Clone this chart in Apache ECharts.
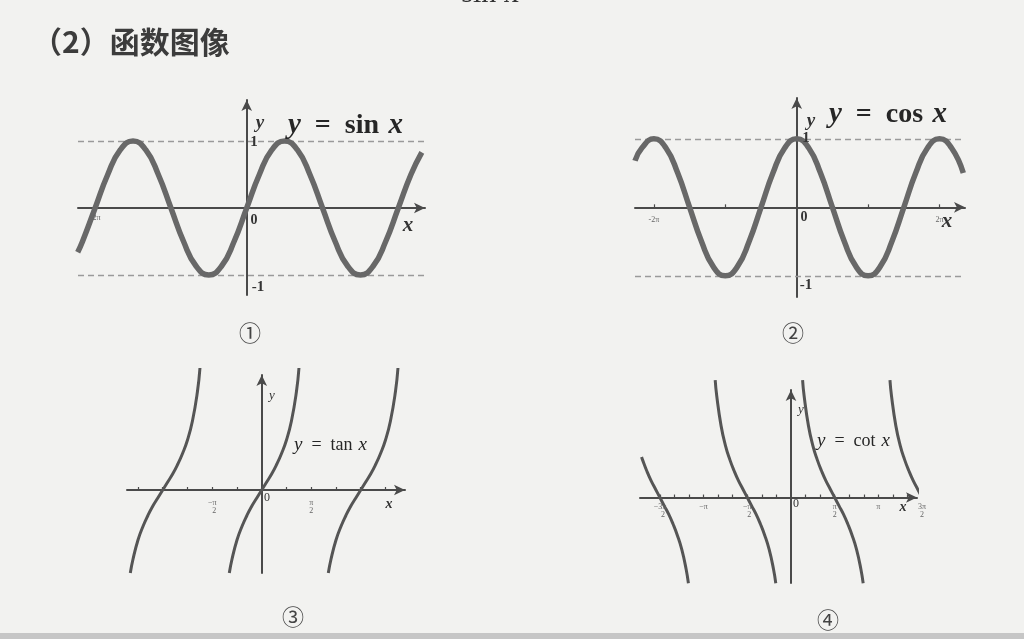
<!DOCTYPE html>
<html>
<head>
<meta charset="utf-8">
<script src="https://cdn.jsdelivr.net/npm/echarts@6/dist/echarts.min.js"></script>
<style>
html,body{margin:0;padding:0;background:#f2f2f0;}
#chart{width:1024px;height:639px;}
</style>
</head>
<body>
<div id="chart"></div>
<script>
// ---- data (x in units of π) ----
const sinX = [-2.23, -2.1667, -2, -1.8333, -1.6667, -1.5, -1.3333, -1.1667, -1, -0.8333, -0.6667, -0.5, -0.3333, -0.1667, 0, 0.1667, 0.3333, 0.5, 0.6667, 0.8333, 1, 1.1667, 1.3333, 1.5, 1.6667, 1.8333, 2, 2.1667, 2.31];
const sinY = [-0.66, -0.5, 0, 0.5, 0.87, 1, 0.87, 0.5, 0, -0.5, -0.87, -1, -0.87, -0.5, 0, 0.5, 0.87, 1, 0.87, 0.5, 0, -0.5, -0.87, -1, -0.87, -0.5, 0, 0.5, 0.83];

const cosX = [-2.265, -2.1667, -2, -1.8333, -1.6667, -1.5, -1.3333, -1.1667, -1, -0.8333, -0.6667, -0.5, -0.3333, -0.1667, 0, 0.1667, 0.3333, 0.5, 0.6667, 0.8333, 1, 1.1667, 1.3333, 1.5, 1.6667, 1.8333, 2, 2.1667, 2.3333];
const cosY = [0.68, 0.87, 1, 0.87, 0.5, 0, -0.5, -0.87, -1, -0.87, -0.5, 0, 0.5, 0.87, 1, 0.87, 0.5, 0, -0.5, -0.87, -1, -0.87, -0.5, 0, 0.5, 0.87, 1, 0.87, 0.5];

const tanLeftX  = [-1.3275, -1.3, -1.25, -1.2, -1.15, -1.1, -1.05, -1, -0.95, -0.9, -0.85, -0.8, -0.75, -0.7, -0.65, -0.624];
const tanMidX   = [-0.3275, -0.3, -0.25, -0.2, -0.15, -0.1, -0.05, 0, 0.05, 0.1, 0.15, 0.2, 0.25, 0.3, 0.35, 0.376];
const tanRightX = [0.6725, 0.7, 0.75, 0.8, 0.85, 0.9, 0.95, 1, 1.05, 1.1, 1.15, 1.2, 1.25, 1.3, 1.35, 1.376];
const tanBranchY = [-1.66, -1.38, -1, -0.73, -0.51, -0.32, -0.16, 0, 0.16, 0.32, 0.51, 0.73, 1, 1.38, 1.96, 2.44];
const tanGuideX = [-0.5, 0.5];

const cotFarLeftX = [-1.71, -1.7, -1.65, -1.6, -1.55, -1.5, -1.45, -1.4, -1.35, -1.3, -1.25, -1.2, -1.174];
const cotFarLeftY = [0.78, 0.73, 0.51, 0.32, 0.16, 0, -0.16, -0.32, -0.51, -0.73, -1, -1.38, -1.65];
const cotLeftX = [-0.8674, -0.85, -0.8, -0.75, -0.7, -0.65, -0.6, -0.55, -0.5, -0.45, -0.4, -0.35, -0.3, -0.25, -0.2, -0.174];
const cotMidX  = [0.1326, 0.15, 0.2, 0.25, 0.3, 0.35, 0.4, 0.45, 0.5, 0.55, 0.6, 0.65, 0.7, 0.75, 0.8, 0.826];
const cotBranchY = [2.26, 1.96, 1.38, 1, 0.73, 0.51, 0.32, 0.16, 0, -0.16, -0.32, -0.51, -0.73, -1, -1.38, -1.65];
const cotRightX = [1.1326, 1.15, 1.2, 1.25, 1.3, 1.35, 1.4, 1.45, 1.5];
const cotRightY = [2.26, 1.96, 1.38, 1, 0.73, 0.51, 0.32, 0.16, 0];
const cotGuideX = [-0.5, 0.5];

const sinTicks = [-2, -1, 1, 2];
const cosTicks = [-2, -1, 1, 2];
const tanTicks = [-1.25, -1, -0.75, -0.5, -0.25, 0.25, 0.5, 0.75, 1, 1.25];
const cotTicks = [-1.5, -1.3333, -1.1667, -1, -0.8333, -0.6667, -0.5, -0.3333, -0.1667, 0.1667, 0.3333, 0.5, 0.6667, 0.8333, 1, 1.1667, 1.3333];
const sinTickLabels = [[-2, '-2π']];
const cosTickLabels = [[-2, '-2π'], [2, '2π']];
const tanTickLabels = [[-0.5, '−π\n  2'], [0.5, 'π\n2']];
const cotTickLabels = [[-1.5, '−3π\n   2'], [-1, '−π'], [-0.5, '−π\n  2'], [0.5, 'π\n2'], [1, 'π'], [1.5, '3π\n2']];

// ---- helpers ----
const zip = (xs, ys) => xs.map((x, i) => [x, ys[i]]);
const AX = '#4a4a4a';
const SERIF = '"Liberation Serif","DejaVu Serif",serif';

function xAxisDef(gi, min, max, ticks) {
  return {
    type: 'value', gridIndex: gi, min: min, max: max,
    splitLine: {show: false}, axisLabel: {show: false},
    axisLine: {onZero: true, symbol: ['none', 'arrow'], symbolSize: [8, 11], lineStyle: {color: AX, width: 2}},
    axisTick: {show: true, customValues: ticks, length: 3, inside: true, lineStyle: {color: AX, width: 1.2}}
  };
}
function yAxisDef(gi, min, max) {
  return {
    type: 'value', gridIndex: gi, min: min, max: max,
    splitLine: {show: false}, axisTick: {show: false}, axisLabel: {show: false},
    axisLine: {onZero: true, symbol: ['none', 'arrow'], symbolSize: [8, 11], lineStyle: {color: AX, width: 2}}
  };
}
function curve(gi, data, width, color, extra) {
  return Object.assign({
    type: 'line', xAxisIndex: gi, yAxisIndex: gi, data: data,
    showSymbol: false, symbol: 'none', smooth: true, clip: false,
    lineStyle: {color: color, width: width}, silent: true, z: 5
  }, extra || {});
}
function hGuides(vals) {
  return {symbol: 'none', silent: true, label: {show: false},
    lineStyle: {type: [6, 4], color: '#9a9a9a', width: 1.3},
    data: vals.map(v => ({yAxis: v}))};
}
function vGuides(xs, ys) {
  const top = Math.max.apply(null, ys), bot = Math.min.apply(null, ys);
  return {symbol: 'none', silent: true, label: {show: false},
    lineStyle: {type: [3, 3], color: '#8a8a8a', width: 1.3},
    data: xs.map(x => [{coord: [x, top]}, {coord: [x, bot]}])};
}
function txt(x, y, text, opt) {
  return {type: 'text', x: x, y: y, z: 100, silent: true, style: Object.assign({
    text: text, fill: '#333', textAlign: 'center', textVerticalAlign: 'middle',
    font: '16px ' + SERIF}, opt || {})};
}
function eq(x, y, fname, size, bold) {
  const w = bold ? 'bold ' : '';
  return {type: 'text', x: x, y: y, z: 100, silent: true, style: {
    text: '{i|y}\u2002=\u2002' + fname + ' \u200a{i|x}', fill: '#262626',
    textAlign: 'left', textVerticalAlign: 'middle',
    font: w + size + 'px ' + SERIF,
    rich: {i: {fontStyle: 'italic', fontWeight: bold ? 'bold' : 'normal', fontSize: size + 1, fontFamily: SERIF, fill: '#262626'}}
  }};
}

const chart = echarts.init(document.getElementById('chart'), null, {renderer: 'canvas'});
chart.setOption({
  backgroundColor: '#f2f2f0',
  animation: false,
  grid: [
    {left: 78, top: 100, width: 347, height: 195},
    {left: 635, top: 98, width: 330, height: 199},
    {left: 127, top: 375, width: 278, height: 198},
    {left: 640, top: 390, width: 277, height: 193}
  ],
  xAxis: [
    xAxisDef(0, -2.226, 2.352, sinTicks),
    xAxisDef(1, -2.265, 2.357, cosTicks),
    xAxisDef(2, -1.361, 1.447, tanTicks),
    xAxisDef(3, -1.728, 1.442, cotTicks)
  ],
  yAxis: [
    yAxisDef(0, -1.299, 1.612),
    yAxisDef(1, -1.309, 1.596),
    yAxisDef(2, -1.66, 2.3),
    yAxisDef(3, -1.646, 2.071)
  ],
  series: [
    curve(0, zip(sinX, sinY), 5.5, '#686868', {markLine: hGuides([1, -1])}),
    curve(1, zip(cosX, cosY), 5.5, '#686868', {markLine: hGuides([1, -1])}),
    curve(2, zip(tanLeftX, tanBranchY), 3, '#555'),
    curve(2, zip(tanMidX, tanBranchY), 3, '#555', {markLine: vGuides(tanGuideX, tanBranchY)}),
    curve(2, zip(tanRightX, tanBranchY), 3, '#555'),
    curve(3, zip(cotFarLeftX, cotFarLeftY), 3, '#555'),
    curve(3, zip(cotLeftX, cotBranchY), 3, '#555'),
    curve(3, zip(cotMidX, cotBranchY), 3, '#555', {markLine: vGuides(cotGuideX, cotBranchY)}),
    curve(3, zip(cotRightX, cotRightY), 3, '#555')
  ]
});

// tick labels placed at the axis positions given by the library's scales
const tickLabelSets = [
  [0, sinTickLabels, 10, 'middle'],
  [1, cosTickLabels, 13, 'middle'],
  [2, tanTickLabels, 9, 'top'],
  [3, cotTickLabels, 5, 'top']
];
const tickTexts = [];
tickLabelSets.forEach(([gi, list, dy, va]) => {
  list.forEach(([v, label]) => {
    const p = chart.convertToPixel({gridIndex: gi}, [v, 0]);
    tickTexts.push(txt(p[0], p[1] + dy, label, {font: '8px ' + SERIF, lineHeight: 8, fill: '#666', textVerticalAlign: va}));
  });
});

chart.setOption({
  graphic: [
    {type: 'rect', shape: {x: 0, y: 633, width: 1024, height: 6}, style: {fill: '#c6c6c6'}, silent: true},
    txt(490, 9, 'sin x', {font: '30px ' + SERIF, textVerticalAlign: 'bottom', fill: '#333'}),
    txt(32, 42, '（2）函数图像', {font: 'bold 30px "Noto Sans CJK SC"', textAlign: 'left', fill: '#3c3c3c'}),
    // panel 1
    txt(260, 123, 'y', {font: 'italic bold 19px ' + SERIF}),
    eq(288, 126, 'sin', 28, true),
    txt(254, 142, '1', {font: 'bold 15px ' + SERIF}),
    txt(254, 220, '0', {font: 'bold 14px ' + SERIF}),
    txt(258, 287, '-1', {font: 'bold 15px ' + SERIF}),
    txt(408, 226, 'x', {font: 'italic bold 21px ' + SERIF}),
    // panel 2
    txt(811, 121, 'y', {font: 'italic bold 19px ' + SERIF}),
    eq(829, 115, 'cos', 28, true),
    txt(806, 138, '1', {font: 'bold 15px ' + SERIF}),
    txt(804, 217, '0', {font: 'bold 14px ' + SERIF}),
    txt(806, 285, '-1', {font: 'bold 15px ' + SERIF}),
    txt(947, 222, 'x', {font: 'italic bold 21px ' + SERIF}),
    // panel 3
    txt(272, 396, 'y', {font: 'italic 13px ' + SERIF}),
    eq(294, 445, 'tan', 18, false),
    txt(267, 498, '0', {font: '12px ' + SERIF}),
    txt(389, 504, 'x', {font: 'italic bold 14px ' + SERIF}),
    // panel 4
    txt(801, 410, 'y', {font: 'italic 13px ' + SERIF}),
    eq(817, 441, 'cot', 18, false),
    txt(796, 504, '0', {font: '12px ' + SERIF}),
    txt(903, 507, 'x', {font: 'italic bold 14px ' + SERIF}),
    // panel numbers
    txt(250, 333, '①', {font: '22px "Noto Sans CJK SC"', fill: '#444'}),
    txt(793, 333, '②', {font: '22px "Noto Sans CJK SC"', fill: '#444'}),
    txt(293, 617, '③', {font: '22px "Noto Sans CJK SC"', fill: '#444'}),
    txt(828, 620, '④', {font: '22px "Noto Sans CJK SC"', fill: '#444'})
  ].concat(tickTexts)
});
</script>
</body>
</html>
